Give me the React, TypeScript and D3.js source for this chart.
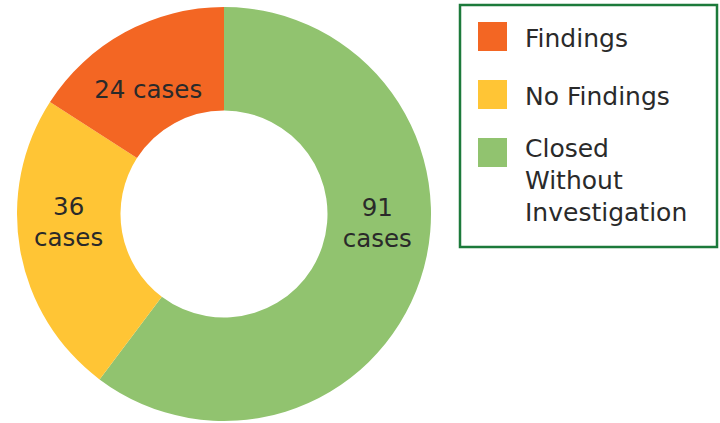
import React from "react";
import * as d3 from "d3";

const categories = ["Findings", "No Findings", "Closed Without Investigation"];
const caseCounts = [24, 36, 91];
const sliceColors = ["#F36623", "#FFC535", "#91C36F"];

const W = 720;
const H = 423;
const FONT = "'DejaVu Sans', 'Liberation Sans', sans-serif";

export default function App() {
  const cx = 224;
  const cy = 214;
  const outerR = 207;
  const innerR = 103.5;

  const items = categories.map((c, i) => ({ cat: c, value: caseCounts[i], color: sliceColors[i], idx: i }));
  // drawn clockwise from 12 o'clock: Closed, No Findings, Findings
  const pieData = d3
    .pie<any>()
    .sort(null)
    .value((d) => d.value)
    .startAngle(0)
    .endAngle(2 * Math.PI)([...items].reverse());

  const arc = d3.arc<any>().innerRadius(innerR).outerRadius(outerR);

  // label nudges (Excel best-fit placement) and line splitting, keyed by category index
  const labelShift: Record<number, [number, number]> = { 0: [-1.5, 11], 1: [-2.5, -19.5], 2: [6, -41] };
  const splitLabel: Record<number, boolean> = { 0: false, 1: true, 2: true };
  const fs = 24.5;
  const lh = 31;

  const legendX = 460;
  const legendY = 5;
  const legendW = 257;
  const legendH = 242;
  const rowTops = [22, 80, 138];

  return (
    <svg width={W} height={H} style={{ position: "absolute", left: 0, top: 0, display: "block" }}>
      <rect width={W} height={H} fill="#fff" />
      <g transform={`translate(${cx},${cy})`}>
        {pieData.map((p) => (
          <path key={p.data.cat} d={arc(p) || ""} fill={p.data.color} />
        ))}
      </g>
      {pieData.map((p) => {
        const [x0, y0] = arc.centroid(p);
        const [sx, sy] = labelShift[p.data.idx];
        const x = cx + x0 + sx;
        const y = cy + y0 + sy;
        const text = `${p.data.value} cases`;
        const lines = splitLabel[p.data.idx] ? text.split(" ") : [text];
        const capH = fs * 0.72;
        const blockH = capH + (lines.length - 1) * lh;
        const firstBase = y - blockH / 2 + capH;
        return (
          <text key={"l" + p.data.cat} textAnchor="middle" fontFamily={FONT} fontSize={fs} fill="#2a2a2a">
            {lines.map((ln, i) => (
              <tspan key={i} x={x} y={firstBase + i * lh}>
                {ln}
              </tspan>
            ))}
          </text>
        );
      })}
      <rect x={legendX} y={legendY} width={legendW} height={legendH} fill="none" stroke="#1C7A3B" strokeWidth={2.5} />
      {items.map((it, i) => {
        const top = rowTops[i];
        const lines = it.cat.length > 12 ? it.cat.split(" ") : [it.cat];
        const firstOff = lines.length > 1 ? 19 : 24.5;
        return (
          <g key={"lg" + it.cat}>
            <rect x={478} y={top} width={29} height={29} fill={it.color} />
            <text fontFamily={FONT} fontSize={25} fill="#2a2a2a">
              {lines.map((ln, j) => (
                <tspan key={j} x={525} y={top + firstOff + j * 32}>
                  {ln}
                </tspan>
              ))}
            </text>
          </g>
        );
      })}
    </svg>
  );
}
